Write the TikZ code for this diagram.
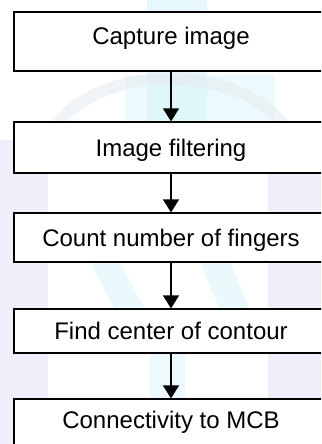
\documentclass[tikz,border=0pt]{standalone}
\usepackage{fontspec}
\setmainfont{Liberation Sans}
\usetikzlibrary{arrows.meta}
\definecolor{wmcyan}{HTML}{D6F3FA}
\definecolor{wmlav}{HTML}{E6E2F8}
\definecolor{wmgrey}{HTML}{E8ECF0}
\tikzset{
  stepbox/.style={draw=black, line width=1.2pt, fill=white, rectangle,
    minimum width=314pt, inner sep=0pt,
    font=\fontsize{24}{27}\selectfont, text height=17pt, text depth=0pt},
  flow/.style={line width=1.3pt, -{Triangle[length=13pt,width=16pt]}}
}
\begin{document}
\begin{tikzpicture}[x=1pt,y=-1pt]
\useasboundingbox (0,0) rectangle (321,444);
\clip (0,0) rectangle (321,444);
% faint watermark behind the chart
\fill[wmcyan, opacity=0.6] (147,0) rectangle (207,130);
\fill[wmcyan, opacity=0.45] (125,75) rectangle (275,125);
\fill[wmlav, opacity=0.6] (0,140) rectangle (48,444);
\fill[wmlav, opacity=0.6] (268,170) rectangle (321,444);
\fill[wmcyan, opacity=0.5] (90,262) -- (120,262) -- (145,310) -- (115,310) -- cycle;
\fill[wmcyan, opacity=0.5] (200,262) -- (230,262) -- (250,310) -- (220,310) -- cycle;
\fill[wmcyan, opacity=0.45] (150,353) rectangle (185,399);
\draw[wmgrey, opacity=0.6, line width=12pt] (50,135) .. controls (90,60) and (250,60) .. (290,135);
% process steps
\node[stepbox, minimum height=59pt, text depth=10pt] (s1) at (171,41.5) {Capture image};
\node[stepbox, minimum height=51pt] (s2) at (171,147.5) {Image filtering};
\node[stepbox, minimum height=49pt] (s3) at (171,237.5) {Count number of fingers};
\node[stepbox, minimum height=44pt] (s4) at (171,331) {Find center of contour};
\node[stepbox, minimum height=52pt, text depth=11pt] (s5) at (171,425) {Connectivity to MCB};
% connectors
\draw[flow] (s1) -- (s2);
\draw[flow] (s2) -- (s3);
\draw[flow] (s3) -- (s4);
\draw[flow] (s4) -- (s5);
\end{tikzpicture}
\end{document}
